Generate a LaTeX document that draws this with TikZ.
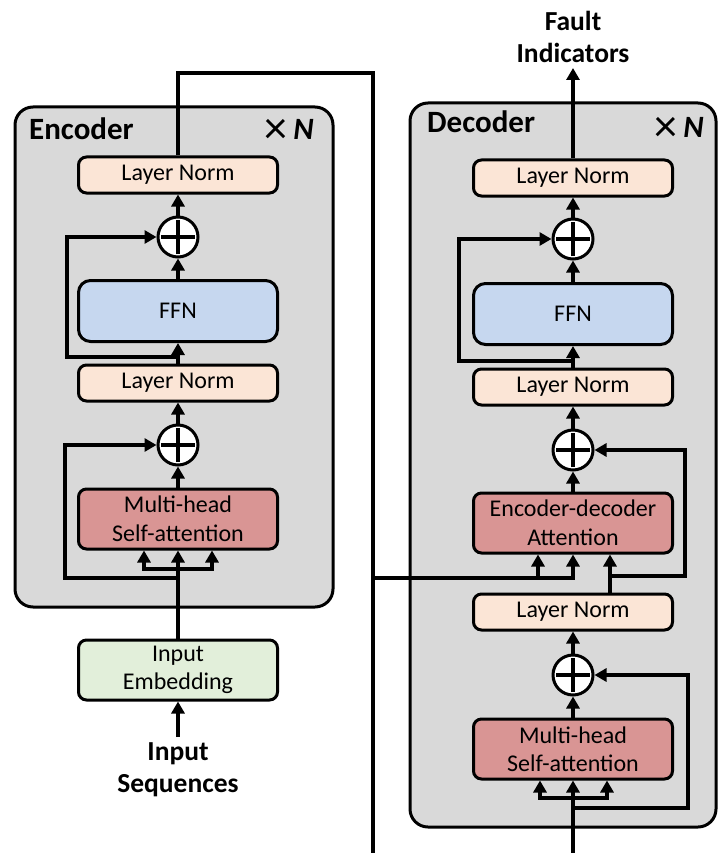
\documentclass[tikz,border=0pt]{standalone}
\usepackage{fontspec}
\setmainfont{Carlito}
\usetikzlibrary{arrows.meta}
\definecolor{bggray}{HTML}{D9D9D9}
\definecolor{lnfill}{HTML}{FBE5D6}
\definecolor{ffnfill}{HTML}{C6D7EF}
\definecolor{attfill}{HTML}{D99594}
\definecolor{embfill}{HTML}{E2EFDA}
\newcommand{\timesN}{\raisebox{-4pt}{\fontsize{46}{46}\selectfont\mdseries ×}\hspace{6pt}\textit{N}}
\begin{document}
\begin{tikzpicture}[x=1pt,y=-1pt,
 font=\fontsize{24}{28.5}\selectfont,
 blk/.style={draw, line width=3pt, rounded corners=8pt, minimum width=199pt, align=center, inner sep=0pt},
 lnbox/.style={blk, fill=lnfill, minimum height=36pt},
 ffnbox/.style={blk, fill=ffnfill, minimum height=61pt, rounded corners=12pt},
 attbox/.style={blk, fill=attfill, minimum height=60pt},
 embbox/.style={blk, fill=embfill, minimum height=60pt},
 addc/.style={circle, draw, line width=3pt, fill=white, minimum size=40pt, inner sep=0pt,
   path picture={\draw[line width=3.5pt]
     ([xshift=-17pt]path picture bounding box.center) -- ([xshift=17pt]path picture bounding box.center)
     ([yshift=-17pt]path picture bounding box.center) -- ([yshift=17pt]path picture bounding box.center);}},
 conn/.style={line width=3.5pt},
 arr/.style={conn, -{Triangle[length=12pt,width=13pt]}},
 container/.style={draw, line width=3pt, fill=bggray, rounded corners=18pt, inner sep=0pt},
 titletxt/.style={font=\fontsize{31}{31}\selectfont\bfseries, anchor=base west, inner sep=0pt},
 iotxt/.style={font=\fontsize{27.5}{32}\selectfont\bfseries, align=center, inner sep=0pt}
]
\useasboundingbox (0,0) rectangle (718,853);

% containers
\node[container, minimum width=318pt, minimum height=500pt] (enc) at (174,357) {};
\node[container, minimum width=306pt, minimum height=724pt] (dec) at (563,465) {};

% titles
\node[titletxt] (enctitle) at (29,140) {Encoder};
\node[titletxt, anchor=base east] (encn) at (314,140) {\timesN};
\node[titletxt] (dectitle) at (427,133) {Decoder};
\node[titletxt, anchor=base east] (decn) at (704,138) {\timesN};

% encoder blocks
\node[lnbox] (eln1) at (178,175) {Layer Norm};
\node[addc] (eadd1) at (178,237) {};
\node[ffnbox] (effn) at (178,311) {FFN};
\node[lnbox] (eln2) at (178,383) {Layer Norm};
\node[addc] (eadd2) at (178,445) {};
\node[attbox] (emha) at (178,519) {Multi-head\\Self-attention};
\node[embbox] (emb) at (178,670) {Input\\Embedding};
\node[iotxt, anchor=north] (insq) at (178,742) {Input\\Sequences};

% decoder blocks
\node[lnbox] (dln1) at (573,178) {Layer Norm};
\node[addc] (dadd1) at (573,239) {};
\node[ffnbox] (dffn) at (573,314) {FFN};
\node[lnbox] (dln2) at (573,387) {Layer Norm};
\node[addc] (dadd2) at (573,450) {};
\node[attbox] (deda) at (573,523) {Encoder-decoder\\Attention};
\node[lnbox] (dln3) at (573,612) {Layer Norm};
\node[addc] (dadd3) at (573,675) {};
\node[attbox] (dmha) at (573,749) {Multi-head\\Self-attention};
\node[iotxt, anchor=south] (fault) at (573,63) {Fault\\Indicators};

% ---------- encoder connectors ----------
\draw[arr] ([yshift=5pt]insq.north) -- (emb.south);
\draw[arr] (emb.north) -- (emha.south);
\coordinate (ebrC) at (178,569);
\coordinate (ebrL) at (144,569);
\coordinate (ebrR) at (212,569);
\draw[arr] (ebrC) -| (ebrL |- emha.south);
\draw[arr] (ebrC) -| (ebrR |- emha.south);
\coordinate (es1) at (178,578);
\coordinate (es1L) at (65,578);
\draw[arr] (es1) -- (es1L) |- (eadd2.west);
\draw[arr] (emha.north) -- (eadd2.south);
\draw[arr] (eadd2.north) -- (eln2.south);
\draw[arr] (eln2.north) -- (effn.south);
\coordinate (es2) at (178,357);
\coordinate (es2L) at (67,357);
\draw[arr] (es2) -- (es2L) |- (eadd1.west);
\draw[arr] (effn.north) -- (eadd1.south);
\draw[arr] (eadd1.north) -- (eln1.south);

% encoder output
\coordinate (eo1) at (178,73);
\coordinate (eo2) at (373,73);
\coordinate (eo3) at (373,853);
\draw[conn] (eln1.north) -- (eo1) -- (eo2) -- (eo3);
\coordinate (eo4) at (373,578);
\coordinate (edM) at (573,578);
\coordinate (edL) at (538,578);
\draw[arr] (eo4) -- (edM) -- (edM |- deda.south);
\draw[arr] (edL) -- (edL |- deda.south);

% ---------- decoder connectors ----------
\coordinate (din) at (573,853);
\draw[arr] (din) -- (dmha.south);
\coordinate (dbrC) at (573,798);
\coordinate (dbrL) at (540,798);
\coordinate (dbrR) at (607,798);
\draw[arr] (dbrC) -| (dbrL |- dmha.south);
\draw[arr] (dbrC) -| (dbrR |- dmha.south);
\coordinate (ds1) at (573,808);
\coordinate (ds1R) at (688,808);
\draw[arr] (ds1) -- (ds1R) |- (dadd3.east);
\draw[arr] (dmha.north) -- (dadd3.south);
\draw[arr] (dadd3.north) -- (dln3.south);
\coordinate (dx) at (610,576);
\coordinate (dxR) at (685,576);
\draw[arr] (dx |- dln3.north) -- (dx |- deda.south);
\draw[arr] (dx) -- (dxR) |- (dadd2.east);
\draw[arr] (deda.north) -- (dadd2.south);
\draw[arr] (dadd2.north) -- (dln2.south);
\draw[arr] (dln2.north) -- (dffn.south);
\coordinate (ds2) at (573,361);
\coordinate (ds2L) at (459,361);
\draw[arr] (ds2) -- (ds2L) |- (dadd1.west);
\draw[arr] (dffn.north) -- (dadd1.south);
\draw[arr] (dadd1.north) -- (dln1.south);
\draw[arr] (dln1.north) -- ([yshift=-5pt]fault.south);
\end{tikzpicture}
\end{document}
